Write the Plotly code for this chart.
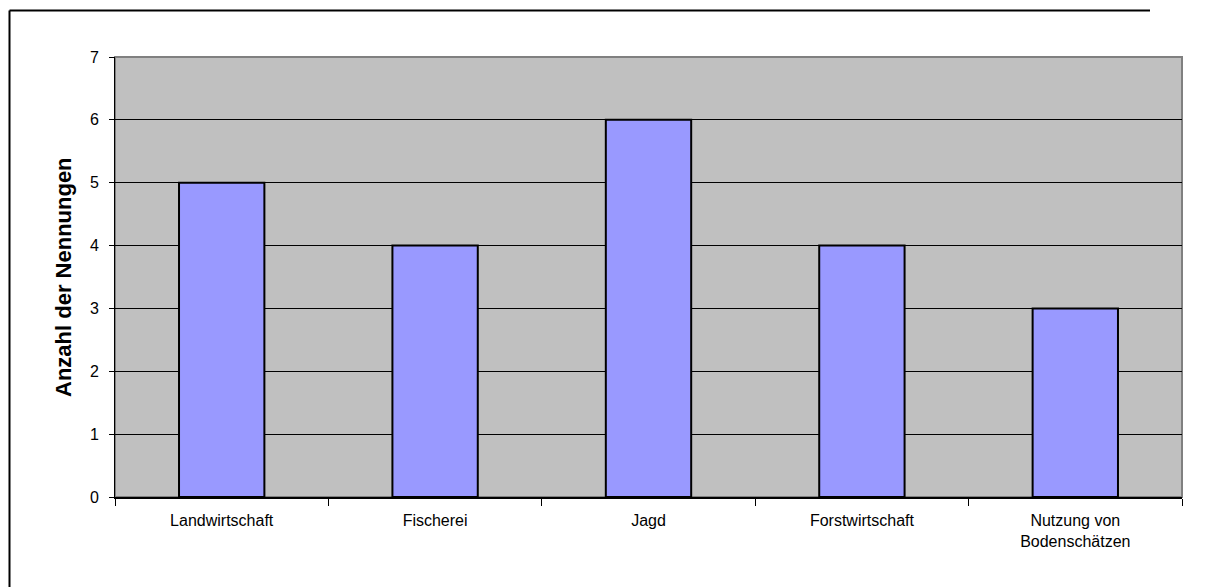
import plotly.graph_objects as go

# Anzahl der Nennungen je Nutzungsart
kategorien = ["Landwirtschaft", "Fischerei", "Jagd", "Forstwirtschaft",
              "Nutzung von<br>Bodenschätzen"]
nennungen = [5, 4, 6, 4, 3]
y_ticks = [0, 1, 2, 3, 4, 5, 6, 7]

W, H = 1209, 587
ML, MR, MT, MB = 115, 27, 57, 90
pw, ph = W - ML - MR, H - MT - MB


def px_x(px):
    return (px - ML) / pw


def px_y(py):
    return 1 - (py - MT) / ph


fig = go.Figure(go.Bar(
    x=kategorien,
    y=nennungen,
    width=0.4,
    marker=dict(color="#9999FF", line=dict(color="black", width=2)),
))

family = "Arial, Liberation Sans, sans-serif"
tick_font = dict(family=family, size=16, color="black")

# outer chart border: left and top edges
bx, by = px_x(9.5), px_y(10.5)

fig.update_layout(
    width=W, height=H,
    margin=dict(l=ML, r=MR, t=MT, b=MB),
    paper_bgcolor="white",
    plot_bgcolor="#C0C0C0",
    font=tick_font,
    showlegend=False,
    bargap=0.6,
    xaxis=dict(
        tickson="boundaries", ticks="outside", ticklen=7, tickcolor="black",
        showline=True, linecolor="black", linewidth=2,
        showgrid=False, tickfont=tick_font, ticklabelstandoff=8,
    ),
    yaxis=dict(
        range=[0, 7], tickvals=y_ticks, ticks="outside", ticklen=5,
        tickcolor="black", showline=True, linecolor="black", linewidth=1,
        showgrid=True, gridcolor="black", gridwidth=1, zeroline=False,
        tickfont=tick_font, ticklabelstandoff=7,
    ),
    annotations=[dict(
        text="<b>Anzahl der Nennungen</b>", textangle=-90,
        xref="paper", yref="paper", x=px_x(63), xanchor="center",
        y=0.5, yanchor="middle",
        showarrow=False, font=dict(family=family, size=22, color="black"),
    )],
    shapes=[
        # gray frame of the plot area
        dict(type="rect", xref="paper", yref="paper", x0=0, y0=0, x1=1, y1=1,
             line=dict(color="#808080", width=2), layer="below"),
        dict(type="line", xref="paper", yref="paper",
             x0=bx, y0=px_y(H), x1=bx, y1=by,
             line=dict(color="black", width=2)),
        dict(type="line", xref="paper", yref="paper",
             x0=bx, y0=by, x1=px_x(1150), y1=by,
             line=dict(color="black", width=2)),
    ],
)

fig.write_html("out.html")
